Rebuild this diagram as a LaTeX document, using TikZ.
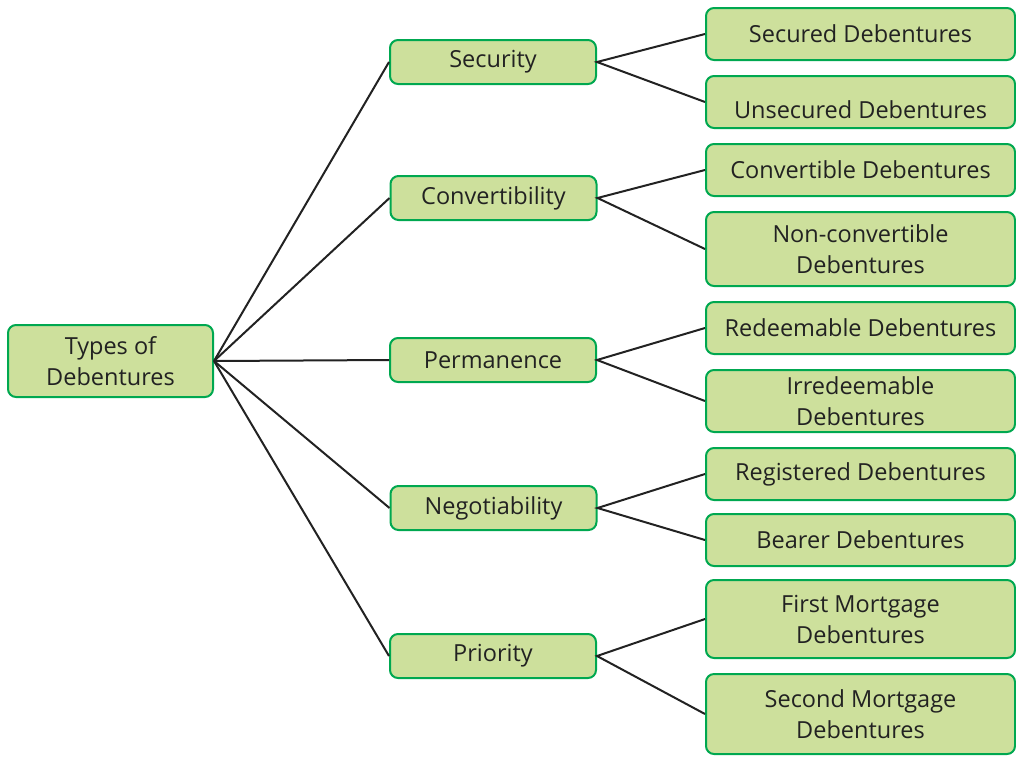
\documentclass[tikz,border=0pt]{standalone}
\usepackage{fontspec}
\setmainfont{Open Sans}
\definecolor{boxfill}{RGB}{205,224,156}
\definecolor{boxline}{RGB}{0,168,80}
\definecolor{inkline}{RGB}{34,34,34}

\begin{document}
\begin{tikzpicture}
        [x=1pt,y=-1pt,
         box/.style={rectangle,rounded corners=8pt,draw=boxline,line width=2pt,fill=boxfill,
                     text=inkline,align=center,inner sep=2pt,
                     font=\fontsize{23.5}{31}\selectfont},
         root/.style={box,minimum width=205pt,minimum height=72pt},
         cat/.style={box,minimum width=206pt,minimum height=44pt},
         leaf/.style={box,minimum width=309pt,minimum height=52pt},
         link/.style={draw=inkline,line width=2pt}]
        \useasboundingbox (0,0) rectangle (1016,756);
        \path node (types) at (110.5,361) [root] {Types of\\Debentures}
              node (security) at (493,62) [cat] {Security}
              node (convert) at (493.5,198) [cat] {Convertibility}
              node (perman) at (493,360) [cat] {Permanence}
              node (negot) at (493.5,508) [cat] {Negotiability}
              node (prior) at (493,656) [cat] {Priority}
              node (secured) at (860.5,34) [leaf] {Secured Debentures}
              node (unsecured) at (860.5,102) [leaf,text height=34pt,text depth=2pt] {Unsecured Debentures}
              node (convdeb) at (860.5,170) [leaf] {Convertible Debentures}
              node (nonconv) at (860.5,249) [leaf,minimum height=74pt] {Non-convertible\\Debentures}
              node (redeem) at (860.5,328) [leaf] {Redeemable Debentures}
              node (irredeem) at (860.5,401) [leaf,minimum height=62pt] {Irredeemable\\Debentures}
              node (regist) at (860.5,474) [leaf] {Registered Debentures}
              node (bearer) at (860.5,540) [leaf] {Bearer Debentures}
              node (firstm) at (860.5,619) [leaf,minimum height=78pt] {First Mortgage\\Debentures}
              node (secondm) at (860.5,714) [leaf,minimum height=80pt] {Second Mortgage\\Debentures};
        % root to categories
        \foreach \c in {security,convert,perman,negot,prior}
          \draw [link] (types.east) -- (\c.west);
        % categories to leaves
        \foreach \c/\a/\b in {security/secured/unsecured,convert/convdeb/nonconv,
                              perman/redeem/irredeem,negot/regist/bearer,prior/firstm/secondm}
          \draw [link] (\a.west) -- (\c.east) -- (\b.west);
      \end{tikzpicture}
\end{document}
